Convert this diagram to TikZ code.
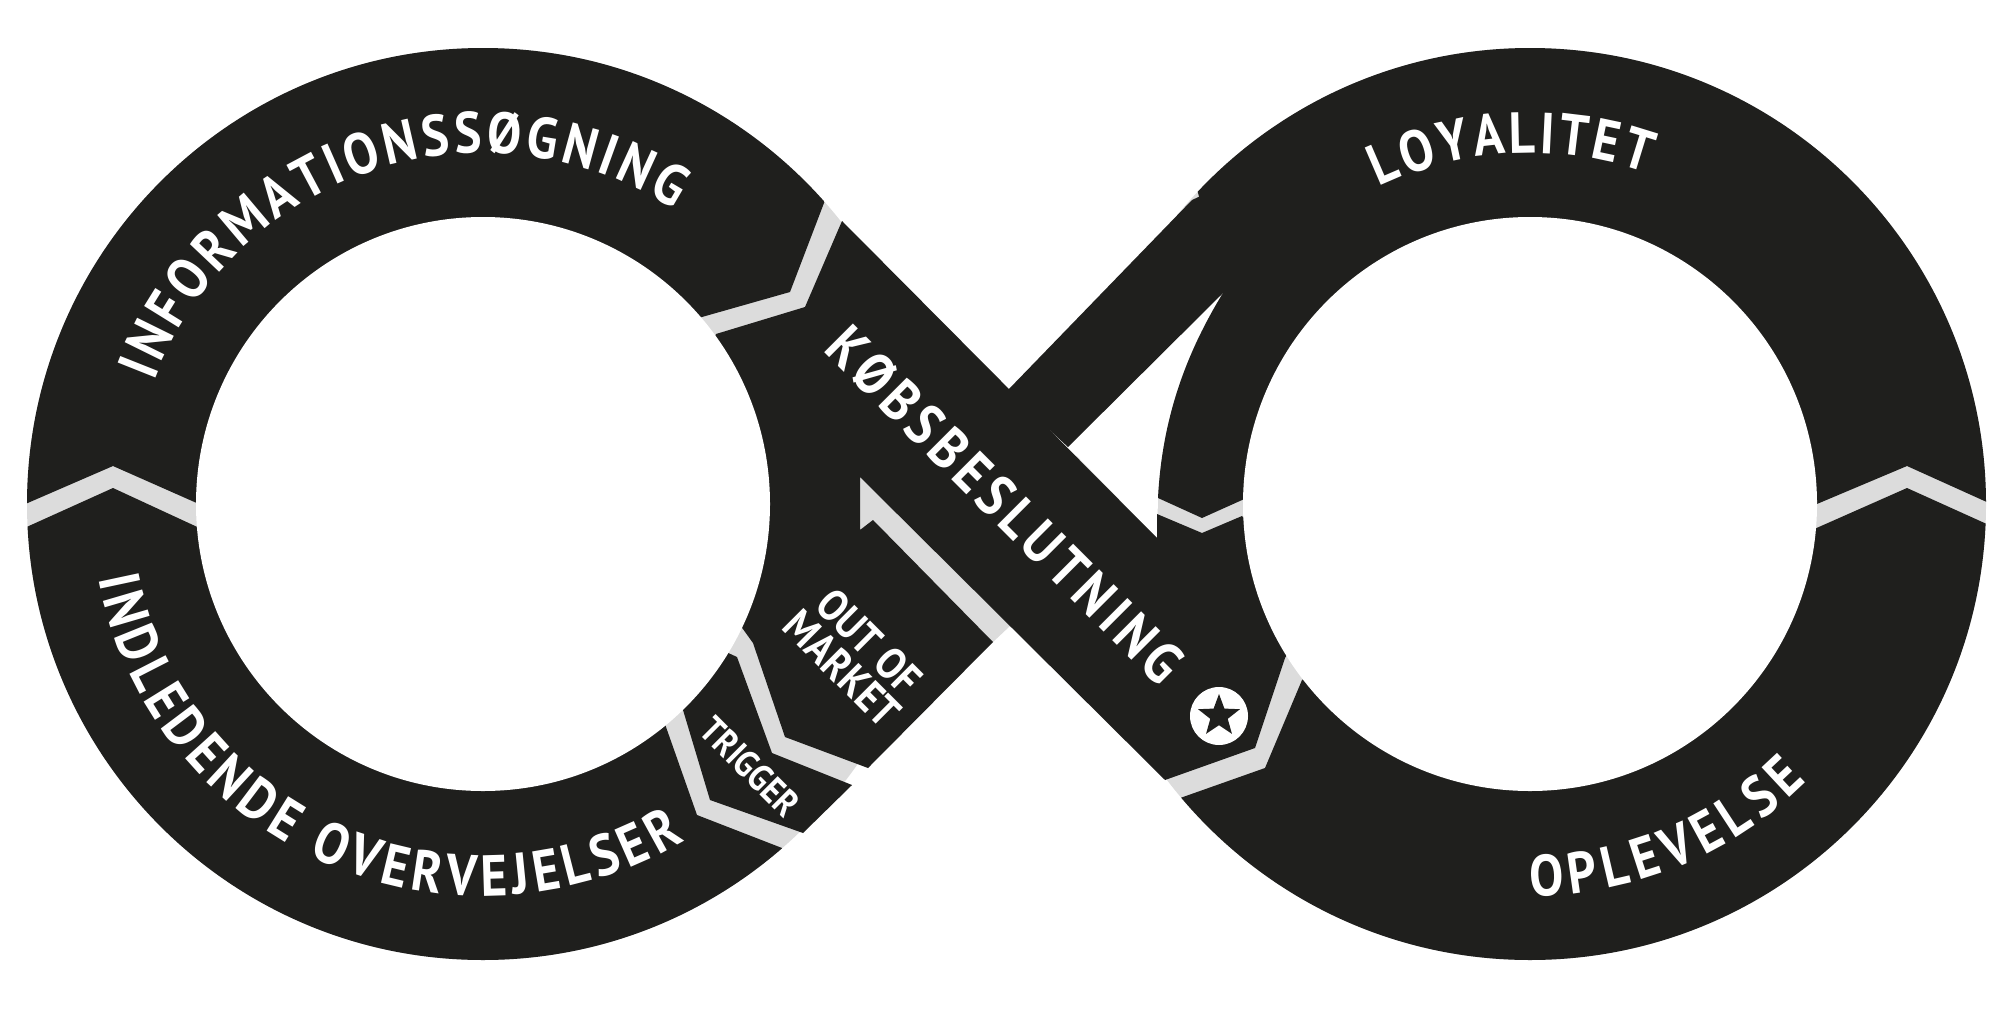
\documentclass[tikz,border=0pt]{standalone}
\usepackage{fontspec}
\setmainfont{PT Sans}[FakeStretch=0.88]
\usetikzlibrary{decorations.text, shapes.geometric}
\definecolor{segblack}{HTML}{1F1F1D}
\definecolor{gapgrey}{HTML}{DCDCDC}
\tikzset{
  seg/.style={fill=segblack},
  gap/.style={fill=gapgrey},
  lbl/.style={text=white, align=center, inner sep=0pt},
  bandtext/.style={decorate, decoration={text along path, text align={fit to path},
      text={|\bfseries\fontsize{16.5}{16.5}\selectfont\color{white}|#1}}},
}

\begin{document}
\begin{tikzpicture}[x=0.01cm, y=-0.01cm]
  \useasboundingbox (0,0) rectangle (2000,1009);
  \coordinate (c1) at (483,504);
  \coordinate (c2) at (1530,504);
  \coordinate (st) at (1219,716);

  % grey shows through the gaps
  \fill[gap] (c1) circle[radius=456] (c2) circle[radius=456];
  \fill[gap] (860,477) -- (860,530) -- (873,520) -- (993,642) -- (1010,626) -- cycle;
  \fill[white] (1068,447) -- (1223,293) .. controls (1185,355) and (1162,420) .. (1158,498) -- (1157,538) -- cycle;

  % informationssoegning
  \begin{scope}
    \clip (0,515) -- (113,466) -- (260,531) -- (c1) -- (650,332) -- (702,317) -- (790,292)
      -- (824,203) -- (850,135) -- (850,0) -- (0,0) -- cycle;
    \fill[seg] (c1) circle[radius=456];
  \end{scope}
  % indledende overvejelser
  \begin{scope}
    \clip (0,539) -- (113,488) -- (260,556) -- (c1) -- (650,680) -- (666,727) -- (697,815)
      -- (782,848) -- (830,867) -- (830,1009) -- (0,1009) -- cycle;
    \fill[seg] (c1) circle[radius=456];
  \end{scope}
  % trigger
  \fill[seg] (683,710) -- (710,800) -- (803,833) -- (852,785) -- (772,753) -- (737,657)
    -- (700,640) -- (660,690) -- cycle;
  % koebsbeslutning and out of market
  \fill[seg] (716,334) -- (805,307) -- (842,221) -- (1157,538) -- (1157,514) -- (1202,533)
    -- (1242,516) -- (1320,600) -- (1285,658) -- (1255,748) -- (1165,780) -- (860,477)
    -- (860,530) -- (873,520) -- (993,642) -- (868,768) -- (785,737) -- (753,643)
    -- (650,500) -- cycle;
  % loyalitet
  \begin{scope}
    \clip (1158,498) -- (1202,518) -- (1300,474) -- (c2) -- (1760,528) -- (1907,466)
      -- (2000,508) -- (2000,0) -- (1150,0) -- (1223,293)
      .. controls (1185,355) and (1162,420) .. (1158,498) -- cycle;
    \fill[seg] (c2) circle[radius=456];
  \end{scope}
  \fill[seg] (1007,391) -- (1192,200) -- (1300,150) -- (1300,300) -- (1223,293) -- (1068,447) -- cycle;
  % oplevelse
  \begin{scope}
    \clip (1302,680) -- (1265,768) -- (1183,797) -- (1100,826) -- (1100,1009) -- (2000,1009)
      -- (2000,530) -- (1907,488) -- (1760,553) -- (c2) -- cycle;
    \fill[seg] (c2) circle[radius=456];
  \end{scope}

  \fill[white] (c1) circle[radius=287] (c2) circle[radius=287];

  % labels
  \path[bandtext=INFORMATIONSSØGNING] (c1) ++(200.5:351) arc[start angle=200.5, end angle=303, radius=351];
  \path[bandtext=INDLEDENDE OVERVEJELSER] (c1) ++(169:392) arc[start angle=169, end angle=59, radius=392];
  \path[bandtext=LOYALITET] (c2) ++(244.5:351) arc[start angle=244.5, end angle=289.5, radius=351];
  \path[bandtext=OPLEVELSE] (c2) ++(90:392) arc[start angle=90, end angle=45, radius=392];
  \path[bandtext=KØBSBESLUTNING] (822,350) -- (1160,688);

  \node[lbl, rotate=-45, font=\bfseries\fontsize{12.5}{10.9}\selectfont] (oom) at (856,655) {OUT OF\\MARKET};
  \node[lbl, rotate=-45, font=\bfseries\fontsize{10.5}{10.5}\selectfont] (trig) at (750,767) {TRIGGER};

  \fill[white] (st) circle[radius=29];
  \node[star, star points=5, star point ratio=2.4, fill=segblack, minimum size=0.44cm, inner sep=0pt] (sym) at (st) {};
\end{tikzpicture}
\end{document}
